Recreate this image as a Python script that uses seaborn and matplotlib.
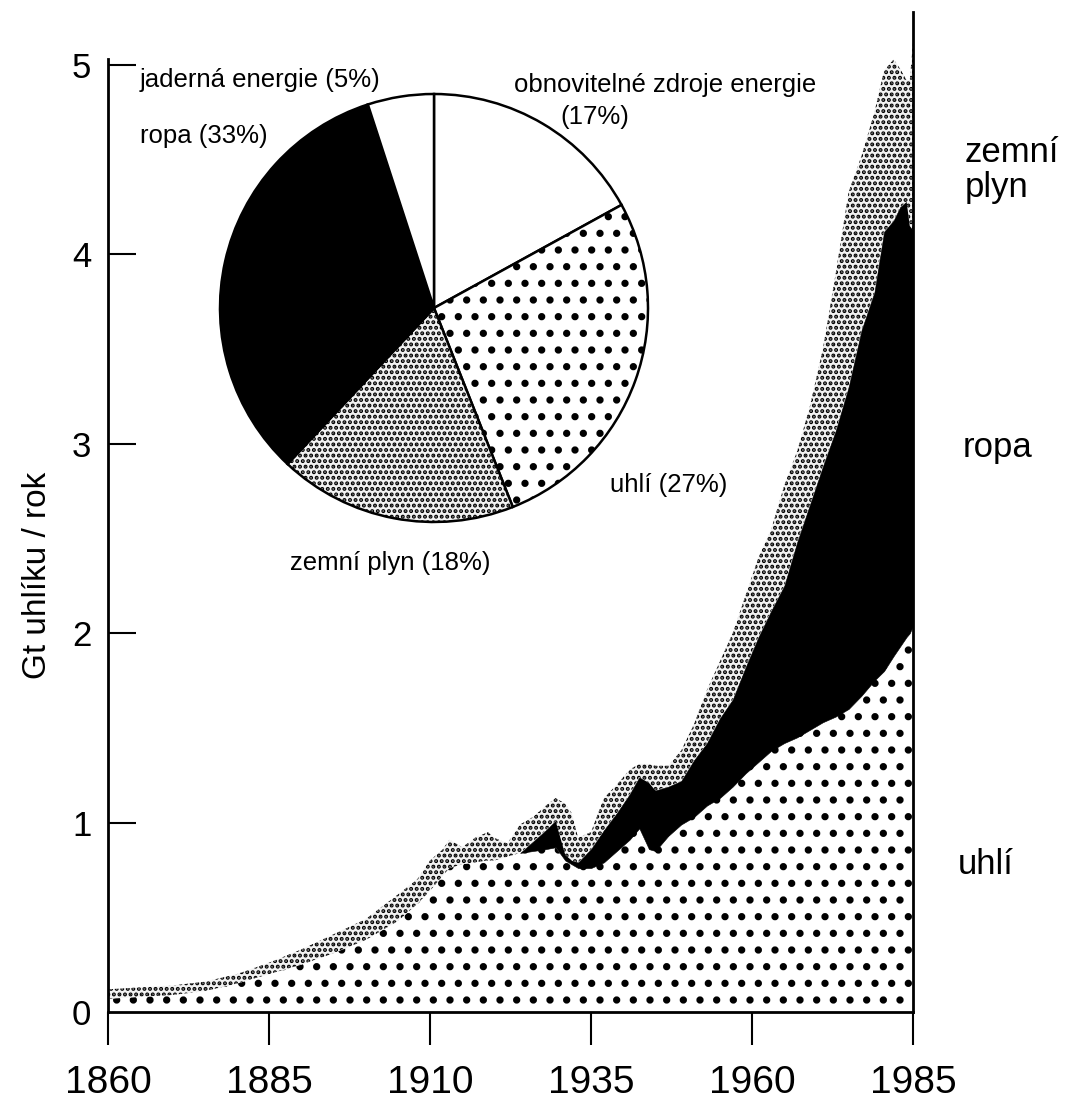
import numpy as np
import pandas as pd
import matplotlib
matplotlib.use("Agg")
import matplotlib.pyplot as plt
import seaborn as sns

# ---- data (Gt C / year) ----
years = [1860, 1865, 1870, 1875, 1880, 1885, 1890, 1895, 1900, 1905, 1908, 1910,
         1912, 1913, 1915, 1917, 1919, 1920, 1922, 1924, 1926, 1928, 1929.5, 1931,
         1932, 1933, 1935, 1937, 1939, 1941, 1942.5, 1944, 1945, 1947, 1949, 1951,
         1953, 1955, 1957, 1959, 1961, 1963, 1965, 1967, 1969, 1971, 1973, 1975,
         1977, 1979, 1980.5, 1982, 1983, 1984, 1984.5, 1985]
uhli = [0.07, 0.08, 0.09, 0.11, 0.15, 0.20, 0.25, 0.31, 0.38, 0.48, 0.57, 0.64,
        0.72, 0.76, 0.78, 0.79, 0.80, 0.80, 0.82, 0.84, 0.85, 0.86, 0.87, 0.80,
        0.78, 0.76, 0.76, 0.79, 0.85, 0.91, 0.97, 0.86, 0.85, 0.93, 0.99, 1.03,
        1.09, 1.13, 1.19, 1.26, 1.32, 1.38, 1.42, 1.45, 1.49, 1.53, 1.56, 1.60,
        1.67, 1.75, 1.80, 1.88, 1.93, 1.98, 2.00, 2.04]
ropa = [0.00, 0.00, 0.00, 0.00, 0.00, 0.00, 0.00, 0.00, 0.00, 0.00, 0.00, 0.00,
        0.00, 0.00, 0.00, 0.00, 0.00, 0.00, 0.00, 0.00, 0.05, 0.10, 0.14, 0.03,
        0.02, 0.03, 0.10, 0.17, 0.20, 0.24, 0.27, 0.35, 0.32, 0.26, 0.23, 0.30,
        0.33, 0.42, 0.46, 0.56, 0.66, 0.74, 0.83, 1.03, 1.19, 1.35, 1.51, 1.70,
        1.93, 2.05, 2.32, 2.30, 2.32, 2.30, 2.15, 2.09]
zemni_plyn = [0.05, 0.05, 0.05, 0.05, 0.05, 0.06, 0.08, 0.10, 0.11, 0.14, 0.13, 0.16,
              0.14, 0.15, 0.09, 0.13, 0.15, 0.12, 0.07, 0.15, 0.13, 0.13, 0.12, 0.27,
              0.25, 0.13, 0.09, 0.17, 0.15, 0.13, 0.07, 0.10, 0.13, 0.11, 0.16, 0.19,
              0.28, 0.30, 0.35, 0.38, 0.42, 0.43, 0.53, 0.48, 0.52, 0.62, 0.83, 1.03,
              0.92, 0.95, 0.85, 0.85, 0.73, 0.64, 0.77, 0.99]

pie_names = ["obnovitelné zdroje energie", "uhlí", "zemní plyn", "ropa", "jaderná energie"]
pie_shares = [17, 27, 18, 33, 5]

x_ticks = [1860, 1885, 1910, 1935, 1960, 1985]
y_ticks = [0, 1, 2, 3, 4, 5]

# ---- style ----
sns.set_theme(style="ticks")
plt.rcParams['font.family'] = ['Liberation Sans', 'DejaVu Sans']
plt.rcParams['text.color'] = 'black'
plt.rcParams['axes.labelcolor'] = 'black'
plt.rcParams['xtick.color'] = 'black'
plt.rcParams['ytick.color'] = 'black'
plt.rcParams['hatch.linewidth'] = 1.6


def set_hlw(artist, lw):
    if hasattr(artist, "set_hatch_linewidth"):
        try:
            artist.set_hatch_linewidth(lw)
        except Exception:
            pass


W, H = 1068, 1104
fig = plt.figure(figsize=(W / 100, H / 100), dpi=100)
fig.patch.set_facecolor('white')

ax = fig.add_axes([108 / W, 1 - 1012 / H, (913 - 108) / W, (1012 - 12) / H])
ax.set_facecolor('white')

df = pd.DataFrame({"rok": years, "uhli": uhli, "ropa": ropa, "plyn": zemni_plyn})
top_uhli = df["uhli"]
top_ropa = top_uhli + df["ropa"]
top_plyn = top_ropa + df["plyn"]

c_coal = ax.fill_between(df["rok"], 0, top_uhli, facecolor='white', edgecolor='black',
                         hatch='.', linewidth=0)
set_hlw(c_coal, 2.8)
ax.fill_between(df["rok"], top_uhli, top_ropa, where=df["ropa"] > 0, interpolate=True,
                facecolor='black', edgecolor='black', linewidth=0.4)
c_gas = ax.fill_between(df["rok"], top_ropa, top_plyn, facecolor='#f2f2f2',
                        edgecolor='black', hatch='...', linewidth=0)
set_hlw(c_gas, 2.0)

ax.set_xlim(1860, 1985)
ax.set_ylim(0, 5.28)
ax.set_xticks(x_ticks)
ax.set_yticks(y_ticks)
ax.set_xticklabels([str(t) for t in x_ticks])
ax.set_yticklabels([str(t) for t in y_ticks])
ax.set_xlabel("")
ax.set_ylabel("")

for s in ['left', 'bottom', 'right']:
    ax.spines[s].set_linewidth(2.0)
    ax.spines[s].set_color('black')
ax.spines['top'].set_visible(False)
ax.spines['left'].set_bounds(0, 5.03)

ax.tick_params(axis='x', direction='out', length=24, width=1.5, pad=14,
               labelsize=28, colors='black')
ax.tick_params(axis='y', direction='in', length=20, width=1.5, pad=12,
               labelsize=25, colors='black', right=False)

fig.text(38 / W, 1 - 575 / H, "Gt uhlíku / rok", rotation=90, ha='center', va='center',
         fontsize=24)

# right-hand labels
fig.text(965 / W, 1 - 170 / H, "zemní\nplyn", ha='left', va='center', fontsize=25,
         linespacing=1.1)
fig.text(963 / W, 1 - 447 / H, "ropa", ha='left', va='center', fontsize=25)
fig.text(958 / W, 1 - 865 / H, "uhlí", ha='left', va='center', fontsize=25)

# ---- inset pie ----
r = 214
cx, cy = 434, 308
pax = fig.add_axes([(cx - r) / W, 1 - (cy + r) / H, 2 * r / W, 2 * r / H])
wedges, _ = pax.pie(pie_shares, startangle=90, counterclock=False,
                    colors=['white', 'white', '#f2f2f2', 'black', 'white'],
                    wedgeprops=dict(edgecolor='black', linewidth=1.8))
wedges[1].set_hatch('.')
set_hlw(wedges[1], 2.8)
wedges[2].set_hatch('...')
set_hlw(wedges[2], 2.0)
pax.set_xlim(-1.0, 1.0)
pax.set_ylim(-1.0, 1.0)
pax.set_aspect('equal')
pax.axis('off')
for wdg in wedges:
    wdg.set_clip_on(False)

pl = 18.5
fig.text(140 / W, 1 - 80 / H, "jaderná energie (5%)", ha='left', va='center', fontsize=pl)
fig.text(140 / W, 1 - 136 / H, "ropa (33%)", ha='left', va='center', fontsize=pl)
fig.text(514 / W, 1 - 85 / H, "obnovitelné zdroje energie", ha='left', va='center', fontsize=pl)
fig.text(595 / W, 1 - 117 / H, "(17%)", ha='center', va='center', fontsize=pl)
fig.text(610 / W, 1 - 485 / H, "uhlí (27%)", ha='left', va='center', fontsize=pl)
fig.text(290 / W, 1 - 563 / H, "zemní plyn (18%)", ha='left', va='center', fontsize=pl)

fig.savefig("out.png", dpi=100, facecolor='white')
